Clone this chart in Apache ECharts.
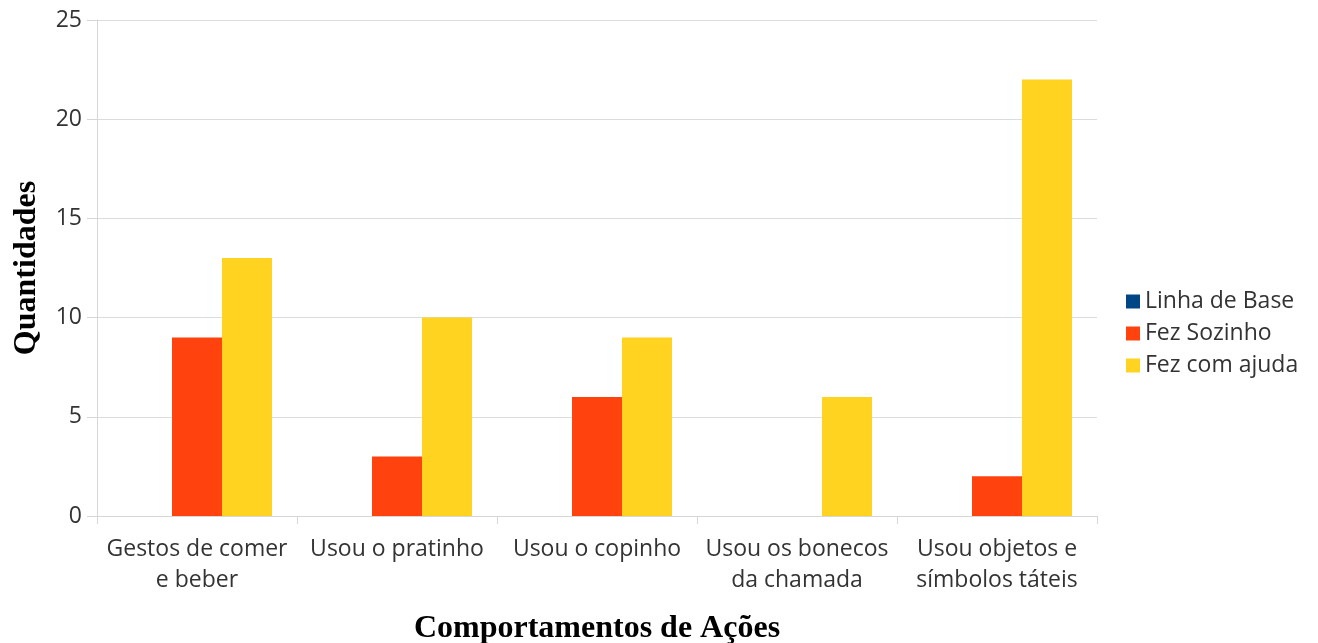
<!DOCTYPE html>
<html>
<head>
<meta charset="utf-8">
<script src="https://cdn.jsdelivr.net/npm/echarts@6/dist/echarts.min.js"></script>
<style>
  html, body { margin: 0; padding: 0; background: #ffffff; }
  #chart { width: 1318px; height: 643px; }
</style>
</head>
<body>
<div id="chart"></div>
<script>
// Categories (actions observed) and counts per series
const categories = [
  'Gestos de comer\ne beber',
  'Usou o pratinho',
  'Usou o copinho',
  'Usou os bonecos\nda chamada',
  'Usou objetos e\nsímbolos táteis'
];
const linhaDeBase = [0, 0, 0, 0, 0];
const fezSozinho = [9, 3, 6, 0, 2];
const fezComAjuda = [13, 10, 9, 6, 22];
const yTicks = { min: 0, max: 25, interval: 5 };

const labelFont = '"Open Sans", "Noto Sans", sans-serif';
const titleFont = '"Liberation Serif", "DejaVu Serif", serif';

const chart = echarts.init(document.getElementById('chart'), null, { renderer: 'canvas' });

chart.setOption({
  animation: false,
  backgroundColor: '#ffffff',
  grid: { left: 97, right: 221, top: 20, bottom: 127, containLabel: false, outerBoundsMode: 'none' },
  legend: {
    orient: 'vertical',
    left: 1121,
    top: 285,
    itemWidth: 14,
    itemHeight: 14,
    itemGap: 9,
    icon: 'rect',
    textStyle: { fontFamily: labelFont, fontSize: 23, color: '#333333' },
    data: ['Linha de Base', 'Fez Sozinho', 'Fez com ajuda']
  },
  xAxis: {
    type: 'category',
    data: categories,
    name: 'Comportamentos de Ações',
    nameLocation: 'middle',
    nameGap: 97,
    nameTextStyle: { fontFamily: titleFont, fontSize: 32, fontWeight: 'bold', color: '#000000' },
    axisLine: { show: true, lineStyle: { color: '#d6d6d6', width: 1 } },
    axisTick: { show: true, length: 8, lineStyle: { color: '#d6d6d6' } },
    axisLabel: {
      fontFamily: labelFont, fontSize: 23, color: '#333333',
      lineHeight: 31, margin: 18, interval: 0
    },
    splitLine: { show: false }
  },
  yAxis: {
    type: 'value',
    min: yTicks.min,
    max: yTicks.max,
    interval: yTicks.interval,
    name: 'Quantidades',
    nameLocation: 'middle',
    nameGap: 54,
    nameRotate: 90,
    nameTextStyle: { fontFamily: titleFont, fontSize: 32, fontWeight: 'bold', color: '#000000' },
    axisLine: { show: true, lineStyle: { color: '#d6d6d6', width: 1 } },
    axisTick: { show: true, length: 10, lineStyle: { color: '#d6d6d6' } },
    axisLabel: { fontFamily: labelFont, fontSize: 23, color: '#333333', margin: 15 },
    splitLine: { show: true, lineStyle: { color: '#dcdcdc', width: 1 } }
  },
  series: [
    { name: 'Linha de Base', type: 'bar', data: linhaDeBase, itemStyle: { color: '#004586' }, barGap: '0%', barCategoryGap: '25%' },
    { name: 'Fez Sozinho', type: 'bar', data: fezSozinho, itemStyle: { color: '#ff420e' }, barGap: '0%', barCategoryGap: '25%' },
    { name: 'Fez com ajuda', type: 'bar', data: fezComAjuda, itemStyle: { color: '#ffd320' }, barGap: '0%', barCategoryGap: '25%' }
  ]
});
</script>
</body>
</html>
